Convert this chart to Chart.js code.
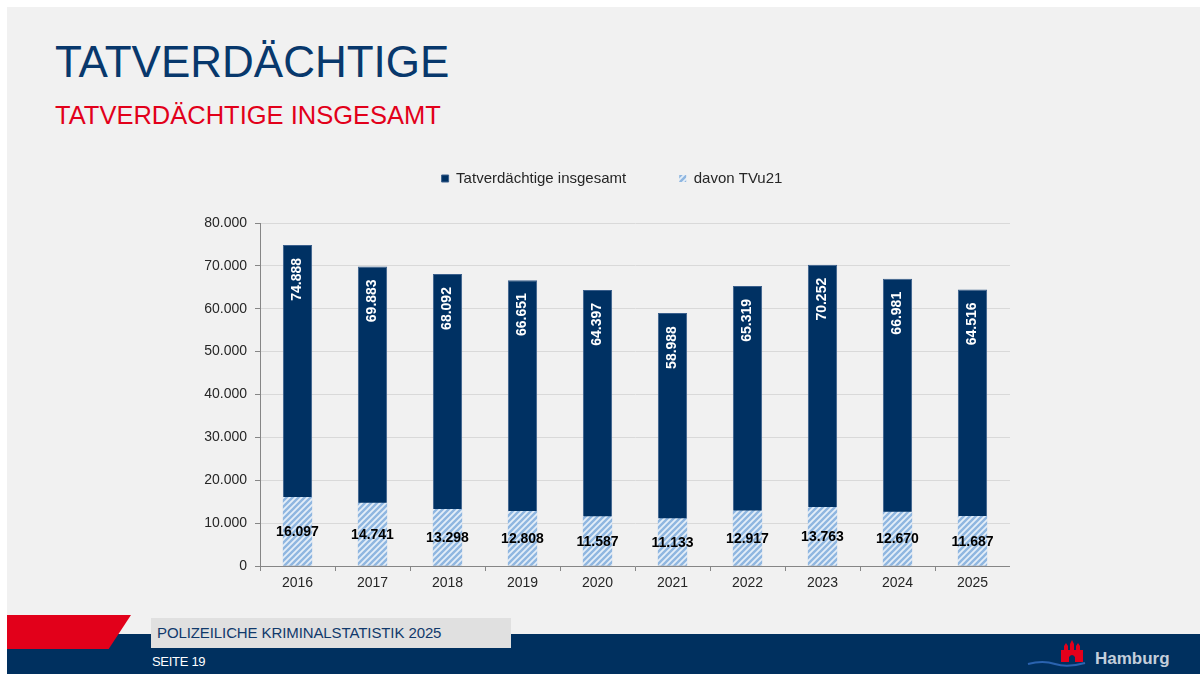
<!DOCTYPE html>
<html>
<head>
<meta charset="utf-8">
<script src="https://cdn.jsdelivr.net/npm/chart.js@4"></script>
<style>
  html, body { margin: 0; padding: 0; background: #fff; }
  body { width: 1200px; height: 674px; position: relative; overflow: hidden; font-family: "Liberation Sans", Arial, sans-serif; }
  .page { position: absolute; left: 7px; top: 7px; right: 0; bottom: 0; background: #f1f1f1; }
  .title { position: absolute; left: 55px; top: 40px; font-size: 44px; line-height: 44px; color: #08386c; white-space: nowrap; }
  .subtitle { position: absolute; left: 55px; top: 103px; font-size: 25.5px; line-height: 25px; color: #e2001a; white-space: nowrap; }
  .band { position: absolute; left: 7px; top: 634px; right: 0; bottom: 0; background: #00305f; }
  .red { position: absolute; left: 7px; top: 615px; width: 124px; height: 34px; background: #e2001a; clip-path: polygon(0 0, 100% 0, 82% 100%, 0 100%); }
  .grey { position: absolute; left: 151px; top: 618px; width: 360px; height: 30px; background: #e0e0e0; }
  .grey span { position: absolute; left: 6px; top: 7px; font-size: 15px; line-height: 15px; letter-spacing: -0.1px; color: #10396b; white-space: nowrap; }
  .seite { position: absolute; left: 152px; top: 655px; font-size: 13px; line-height: 13px; letter-spacing: -0.3px; color: #fff; }
  .hh { position: absolute; left: 1095px; top: 650px; font-size: 17px; line-height: 17px; font-weight: bold; color: #c3cedb; }
  #wrap { position: absolute; left: 180px; top: 118px; width: 830px; height: 472px; }
</style>
</head>
<body>
<div class="page"></div>
<div class="title">TATVERDÄCHTIGE</div>
<div class="subtitle">TATVERDÄCHTIGE INSGESAMT</div>
<div class="band"></div>
<div class="red"></div>
<div class="grey"><span>POLIZEILICHE KRIMINALSTATISTIK 2025</span></div>
<div class="seite">SEITE 19</div>
<svg style="position:absolute;left:1025px;top:638px" width="65" height="32">
  <path d="M3 26 Q18 22 30 26 T60 25" stroke="#2a63b0" stroke-width="2" fill="none"/>
  <path d="M36 24 L36 12 L39 12 L39 8 L41 5 L43 8 L43 12 L45 12 L45 6 L47 2 L49 6 L49 12 L51 12 L51 8 L53 5 L55 8 L55 12 L58 12 L58 24 L50 24 L50 19 Q47 15 44 19 L44 24 Z" fill="#e3001b"/>
</svg>
<div class="hh">Hamburg</div>
<div id="wrap"><canvas id="c"></canvas></div>
<script>
const years = ['2016', '2017', '2018', '2019', '2020', '2021', '2022', '2023', '2024', '2025'];
const totalSuspects = [74888, 69883, 68092, 66651, 64397, 58988, 65319, 70252, 66981, 64516];
const under21 = [16097, 14741, 13298, 12808, 11587, 11133, 12917, 13763, 12670, 11687];
const yTicks = [0, 10000, 20000, 30000, 40000, 50000, 60000, 70000, 80000];

const fmt = v => String(v).replace(/\B(?=(\d{3})+(?!\d))/g, '.');

// diagonal stripes for the TVu21 bars
function stripes() {
  const s = 6;
  const p = document.createElement('canvas');
  p.width = s; p.height = s;
  const g = p.getContext('2d');
  g.fillStyle = '#e4eef8';
  g.fillRect(0, 0, s, s);
  g.strokeStyle = '#8fb6e0';
  g.lineWidth = 2.4;
  g.beginPath();
  g.moveTo(-1, s + 1); g.lineTo(s + 1, -1);
  g.moveTo(-1, 1); g.lineTo(1, -1);
  g.moveTo(s - 1, s + 1); g.lineTo(s + 1, s - 1);
  g.stroke();
  return g.createPattern(p, 'repeat');
}
const hatch = stripes();

const labelPlugin = {
  id: 'barLabels',
  afterDatasetsDraw(chart) {
    const ctx = chart.ctx;
    ctx.save();
    chart.getDatasetMeta(0).data.forEach((bar, i) => {
      ctx.save();
      ctx.translate(bar.x, bar.y + 13);
      ctx.rotate(-Math.PI / 2);
      ctx.font = 'bold 14px "Liberation Sans", Arial, sans-serif';
      ctx.fillStyle = '#ffffff';
      ctx.textAlign = 'right';
      ctx.textBaseline = 'middle';
      ctx.fillText(fmt(totalSuspects[i]), 0, 0);
      ctx.restore();
    });
    chart.getDatasetMeta(1).data.forEach((bar, i) => {
      ctx.font = 'bold 14px "Liberation Sans", Arial, sans-serif';
      ctx.fillStyle = '#000000';
      ctx.textAlign = 'center';
      ctx.textBaseline = 'middle';
      ctx.fillText(fmt(under21[i]), bar.x, (bar.y + bar.base) / 2 + 1);
    });
    ctx.restore();
  }
};

const legendSize = {
  id: 'legendSize',
  beforeInit(chart) {
    const fit = chart.legend.fit;
    chart.legend.fit = function () {
      fit.bind(chart.legend)();
      this.height = 105;
    };
  },
  afterLayout(chart) {
    chart.legend.left += 17;
    chart.legend.right += 17;
  }
};

new Chart(document.getElementById('c'), {
  type: 'bar',
  data: {
    labels: years,
    datasets: [{
      label: 'Tatverdächtige insgesamt',
      data: totalSuspects,
      backgroundColor: '#003163',
      borderColor: '#3a5f8c',
      borderWidth: 1,
      order: 1
    }, {
      label: 'davon TVu21',
      data: under21,
      backgroundColor: hatch,
      borderWidth: 0,
      order: 0
    }]
  },
  options: {
    responsive: true,
    maintainAspectRatio: false,
    animation: false,
    datasets: { bar: { categoryPercentage: 1, barPercentage: 0.39 } },
    layout: { padding: 0 },
    plugins: {
      tooltip: { enabled: false },
      legend: {
        position: 'top',
        labels: {
          boxWidth: 7,
          boxHeight: 7,
          padding: 53,
          color: '#262626',
          font: { size: 15, family: '"Liberation Sans", Arial, sans-serif' },
          sort: (a, b) => a.datasetIndex - b.datasetIndex
        }
      }
    },
    scales: {
      x: {
        stacked: true,
        grid: { display: true, drawOnChartArea: false, color: '#868686', tickLength: 5 },
        border: { color: '#868686' },
        ticks: { color: '#262626', padding: 4, font: { size: 14, family: '"Liberation Sans", Arial, sans-serif' } },
        afterFit(s) { s.height = 24; }
      },
      y: {
        stacked: false,
        min: 0,
        max: 80000,
        afterBuildTicks(s) { s.ticks = yTicks.map(v => ({ value: v })); },
        grid: { color: '#d9d9d9', tickColor: '#868686', tickLength: 5 },
        border: { color: '#868686' },
        ticks: { color: '#262626', padding: 8, font: { size: 14, family: '"Liberation Sans", Arial, sans-serif' }, callback: v => fmt(v) },
        afterFit(s) { s.width = 80; }
      }
    }
  },
  plugins: [labelPlugin, legendSize]
});
</script>
</body>
</html>
